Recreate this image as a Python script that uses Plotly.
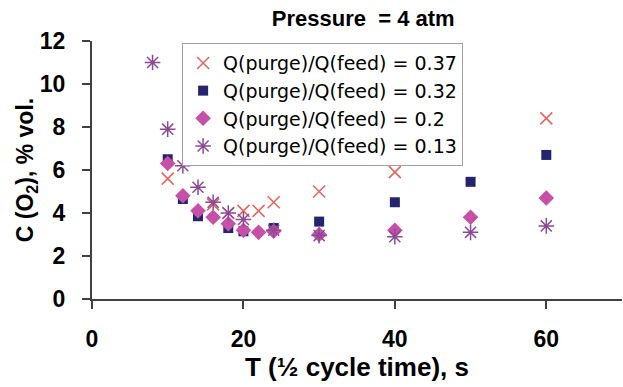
import plotly.graph_objects as go

# Data
x_037 = [10, 16, 18, 20, 22, 24, 30, 40, 60]
y_037 = [5.6, 4.4, 4.0, 4.1, 4.1, 4.5, 5.0, 5.9, 8.4]

x_032 = [10, 12, 14, 18, 20, 24, 30, 40, 50, 60]
y_032 = [6.5, 4.65, 3.85, 3.3, 3.15, 3.3, 3.6, 4.5, 5.45, 6.7]

x_020 = [10, 12, 14, 16, 18, 20, 22, 24, 30, 40, 50, 60]
y_020 = [6.3, 4.8, 4.1, 3.8, 3.5, 3.2, 3.1, 3.15, 3.0, 3.2, 3.8, 4.7]

x_013 = [8, 10, 12, 14, 16, 18, 20, 24, 30, 40, 50, 60]
y_013 = [11.0, 7.9, 6.2, 5.2, 4.5, 4.0, 3.7, 3.2, 2.95, 2.9, 3.1, 3.4]

names = ["Q(purge)/Q(feed) = 0.37", "Q(purge)/Q(feed) = 0.32",
         "Q(purge)/Q(feed) = 0.2", "Q(purge)/Q(feed) = 0.13"]

x_ticks = [0, 20, 40, 60]
y_ticks = [0, 2, 4, 6, 8, 10, 12]

FONT = "Liberation Sans, Arial, sans-serif"
LEGFONT = "DejaVu Sans, sans-serif"

fig = go.Figure()
fig.add_trace(go.Scatter(x=x_037, y=y_037, mode="markers", name=names[0],
                         marker=dict(symbol="x-thin-open", size=12, color="#e8625c",
                                     line=dict(width=1.5, color="#e8625c"))))
fig.add_trace(go.Scatter(x=x_032, y=y_032, mode="markers", name=names[1],
                         marker=dict(symbol="square", size=10, color="#26246e",
                                     line=dict(width=0))))
fig.add_trace(go.Scatter(x=x_020, y=y_020, mode="markers", name=names[2],
                         marker=dict(symbol="diamond", size=12, color="#c64fa8",
                                     line=dict(width=0))))
fig.add_trace(go.Scatter(x=x_013, y=y_013, mode="markers", name=names[3],
                         marker=dict(symbol="asterisk-open", size=13, color="#8c4a94",
                                     line=dict(width=1.5, color="#8c4a94"))))

fig.update_layout(
    width=623, height=387,
    margin=dict(l=92, r=1, t=41, b=88),
    paper_bgcolor="white", plot_bgcolor="white",
    font=dict(family=FONT, color="black"),
    title=dict(text="Pressure&nbsp; = 4 atm", x=0.583, xanchor="center",
               y=0.953, yanchor="middle",
               font=dict(size=22, family=FONT, weight="bold")),
    showlegend=True,
    legend=dict(x=0.17, y=0.992, xanchor="left", yanchor="top",
                bgcolor="white", bordercolor="#a0a0a0", borderwidth=1,
                font=dict(size=19, family=LEGFONT), itemwidth=30,
                entrywidth=290, entrywidthmode="pixels",
                tracegroupgap=0),
    xaxis=dict(range=[0, 70], tickvals=x_ticks, ticks="outside", ticklen=8,
               tickwidth=2, tickcolor="#404040", showline=True, linecolor="#404040",
               linewidth=2, showgrid=False, zeroline=False,
               ticklabelstandoff=10,
               tickfont=dict(size=23, family=FONT, weight="bold"),
               title=dict(text="T (½ cycle time), s",
                          font=dict(size=26, family=FONT, weight="bold"),
                          standoff=3)),
    yaxis=dict(range=[0, 12], tickvals=y_ticks, ticks="outside", ticklen=8,
               tickwidth=2, tickcolor="#404040", showline=True, linecolor="#404040",
               linewidth=2, showgrid=False, zeroline=False,
               ticklabelstandoff=12,
               tickfont=dict(size=23, family=FONT, weight="bold"),
               title=dict(text="C (O<sub>2</sub>), % vol.",
                          font=dict(size=23, family=FONT, weight="bold"),
                          standoff=0)),
)

fig.write_html("out.html")
